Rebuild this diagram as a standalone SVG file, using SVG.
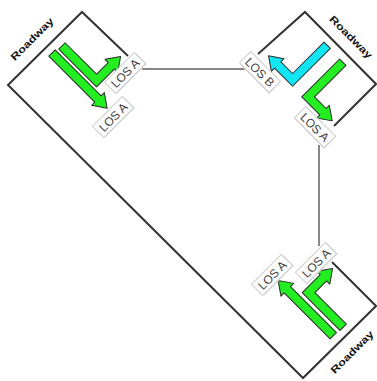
<svg xmlns="http://www.w3.org/2000/svg" xmlns:xlink="http://www.w3.org/1999/xlink" width="377" height="381" viewBox="0 0 377 381">
<style>
.edge{fill:none;stroke:#333;stroke-width:2;stroke-linejoin:miter}
.link{stroke:#888;stroke-width:2}
.arr{stroke:#2a2a2a;stroke-width:1;stroke-linejoin:round}
.g{fill:#22ee22}
.c{fill:#12e6f5}
.bg{fill:#fff;stroke:#cfcfcf;stroke-width:1}
.sh{fill:#e0e0e0}
.lt{font-family:"Liberation Sans",Arial,sans-serif;font-size:12px;fill:#444;text-anchor:middle}
.road{font-family:"Liberation Sans",Arial,sans-serif;font-size:10px;font-weight:bold;fill:#111;text-anchor:middle}
</style>
<defs>
<polygon id="st" points="0,-4.5 65,-4.5 65,-9 78,0 65,9 65,4.5 0,4.5"/>
<polygon id="lt" points="0,-4.5 44.5,-4.5 44.5,-21 40,-21 49,-34 58,-21 53.5,-21 53.5,4.5 0,4.5"/>
</defs>
<g id="connectors">
<path class="edge" d="M128,56 L82,12 L8,85 L303,378 L376,306 L332,262"/>
<path class="edge" d="M258,54 L305,12 L376,84 L334,126"/>
<line class="link" x1="142" y1="69" x2="245" y2="69"/>
<line class="link" x1="319" y1="145" x2="319" y2="246"/>
</g>
<g id="approach-left">
<text class="road" transform="translate(32,39) rotate(-45)" textLength="56" lengthAdjust="spacingAndGlyphs" dy="3.5">Roadway</text>
<use xlink:href="#st" class="arr g" transform="translate(52,53) rotate(45)"/>
<use xlink:href="#lt" class="arr g" transform="translate(52,53) rotate(45) translate(2,-12)"/>
<g transform="translate(125,73) rotate(-45)"><rect class="sh" x="-20" y="-7" width="42" height="16"/><rect class="bg" x="-21" y="-8" width="42" height="16"/><text class="lt" y="4.5">LOS A</text></g>
<g transform="translate(113,117) rotate(-45)"><rect class="sh" x="-20" y="-7" width="42" height="16"/><rect class="bg" x="-21" y="-8" width="42" height="16"/><text class="lt" y="4.5">LOS A</text></g>
</g>
<g id="approach-topright">
<text class="road" transform="translate(351,37) rotate(45)" textLength="56" lengthAdjust="spacingAndGlyphs" dy="3.5">Roadway</text>
<use xlink:href="#lt" class="arr c" transform="translate(335,53) rotate(135) translate(0,11) scale(1,-1)"/>
<use xlink:href="#lt" class="arr g" transform="translate(335,53) rotate(135) translate(1,-12)"/>
<g transform="translate(260,72) rotate(45)"><rect class="sh" x="-20" y="-7" width="42" height="16"/><rect class="bg" x="-21" y="-8" width="42" height="16"/><text class="lt" y="4.5">LOS B</text></g>
<g transform="translate(315,127) rotate(45)"><rect class="sh" x="-20" y="-7" width="42" height="16"/><rect class="bg" x="-21" y="-8" width="42" height="16"/><text class="lt" y="4.5">LOS A</text></g>
</g>
<g id="approach-bottomright">
<text class="road" transform="translate(352,352) rotate(-45)" textLength="56" lengthAdjust="spacingAndGlyphs" dy="3.5">Roadway</text>
<use xlink:href="#st" class="arr g" transform="translate(334,335) rotate(-135) translate(0,-1)"/>
<use xlink:href="#lt" class="arr g" transform="translate(334,335) rotate(-135) translate(-1,12) scale(1,-1)"/>
<g transform="translate(272,275) rotate(-45)"><rect class="sh" x="-20" y="-7" width="42" height="16"/><rect class="bg" x="-21" y="-8" width="42" height="16"/><text class="lt" y="4.5">LOS A</text></g>
<g transform="translate(316,263) rotate(-45)"><rect class="sh" x="-20" y="-7" width="42" height="16"/><rect class="bg" x="-21" y="-8" width="42" height="16"/><text class="lt" y="4.5">LOS A</text></g>
</g>
</svg>
